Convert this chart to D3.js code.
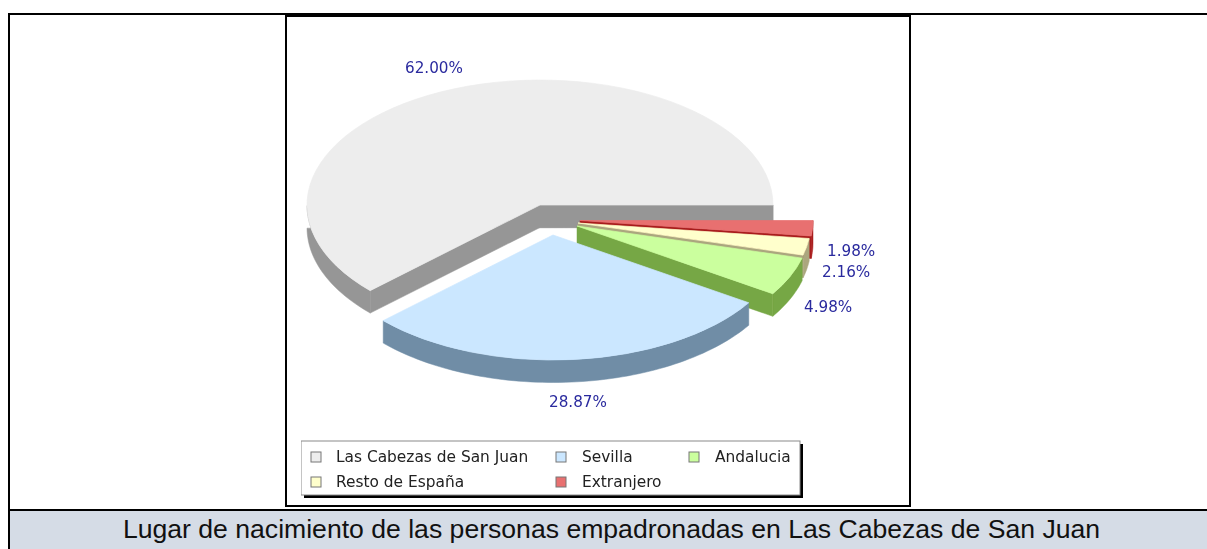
<!DOCTYPE html>
<html><head><meta charset="utf-8">
<script src="https://cdn.jsdelivr.net/npm/d3@7"></script>
<style>html,body{margin:0;padding:0;background:#fff;overflow:hidden}svg{display:block}</style>
</head><body><svg id="c" width="1207" height="549"></svg>
<script>
const categories = ["Las Cabezas de San Juan","Sevilla","Andalucia","Resto de España","Extranjero"];
const percents = [62.00,28.87,4.98,2.16,1.98];
const percentLabels = ["62.00%","28.87%","4.98%","2.16%","1.98%"];
const caption = "Lugar de nacimiento de las personas empadronadas en Las Cabezas de San Juan";

// styling and layout, kept apart from the data
const topColors = ["#ededed","#cbe7ff","#cbff9e","#ffffcc","#e86f6f"];
const wallColors = ["#969696","#6f8da6","#76a745","#aba67e","#a81c1c"];
const sliceCentres = [[540,205],[553,235],[577,226],[578,223],[580,220.5]];
const labelAnchors = [[405,73],[549,407],[804,312],[822,277],[827,256]];
const legendCells = [[311,336,457],[556,582,457],[689,715,457],[311,336,482],[556,582,482]];
const paintOrder = [0,4,3,2,1];
const RX=233, RY=125, DEPTH=22.5;

const svg = d3.select("#c");
svg.append("defs").append("filter").attr("id","soft").attr("x",0).attr("y",0).attr("width",1).attr("height",1)
  .append("feGaussianBlur").attr("stdDeviation",0.5);

// page frame
svg.append("rect").attr("x",9).attr("y",511).attr("width",1198).attr("height",38).attr("fill","#d5dce6");
svg.append("g").attr("stroke","#000").attr("stroke-width",2).selectAll("line")
  .data([[8,14,1207,14],[9,13,9,549],[9,510,1207,510]]).join("line")
  .attr("x1",d=>d[0]).attr("y1",d=>d[1]).attr("x2",d=>d[2]).attr("y2",d=>d[3]);
svg.append("rect").attr("x",286).attr("y",16).attr("width",624).attr("height",490)
  .attr("fill","#fff").attr("stroke","#000").attr("stroke-width",2);
svg.append("text").attr("x",611.5).attr("y",538).attr("text-anchor","middle")
  .attr("font-family","'Liberation Sans',Arial,sans-serif").attr("font-size",26.6).attr("fill","#111").text(caption);

const chart = svg.append("g").attr("filter","url(#soft)");

// pie angles: start at 3 o'clock, run counter-clockwise
const arcs = d3.pie().sort(null).startAngle(Math.PI/2).endAngle(Math.PI/2-2*Math.PI)(percents);
const sx = d3.scaleLinear().domain([-1,1]).range([-RX,RX]);
const sy = d3.scaleLinear().domain([-1,1]).range([-RY,RY]);
const line = d3.line();
const sector = d3.arc().innerRadius(0).outerRadius(1);

paintOrder.forEach(i=>{
  const a = arcs[i], [cx,cy] = sliceCentres[i];
  const n = Math.max(2,Math.ceil(Math.abs(a.endAngle-a.startAngle)*40));
  const pts = d3.range(n+1).map(k=>{
    const t = a.startAngle+(a.endAngle-a.startAngle)*k/n;
    return [cx+sx(Math.sin(t)), cy+sy(-Math.cos(t))];
  });
  const down = p=>[p[0],p[1]+DEPTH];
  const apex=[cx,cy];
  const mid = pts[Math.floor(n/2)];
  const cross=(u,v)=>u[0]*v[1]-u[1]*v[0];
  // a cut face shows only if the extrusion falls outside the sector
  const faces = p=>{
    const e=[p[0]-cx,p[1]-cy], m=[mid[0]-cx,mid[1]-cy];
    return cross(e,m)*cross(e,[0,1])<0;
  };
  const front = pts.filter(p=>p[1]>=cy-0.001);
  const g = chart.append("g").attr("class","slice");
  const wall = [
    [...front,...front.slice().reverse().map(down)],
    ...[pts[0],pts[n]].filter(faces).map(p=>[apex,p,down(p),down(apex)])
  ];
  g.selectAll("path.wall").data(wall).join("path").attr("class","wall")
    .attr("d",d=>line(d)+"Z").attr("fill",wallColors[i])
    .attr("stroke",wallColors[i]).attr("stroke-width",0.5).attr("stroke-linejoin","round");
  // top face, via d3.arc in unit space
  g.append("path").attr("transform",`translate(${cx},${cy}) scale(${RX},${RY})`)
    .attr("d",sector(a)).attr("fill",topColors[i])
    .attr("stroke",topColors[i]).attr("stroke-width",0.7).attr("vector-effect","non-scaling-stroke");
});

chart.append("g").selectAll("text").data(percentLabels).join("text")
  .attr("x",(d,i)=>labelAnchors[i][0]).attr("y",(d,i)=>labelAnchors[i][1])
  .attr("font-family","'DejaVu Sans',sans-serif").attr("font-size",15.2).attr("fill","#2a2a9e").text(d=>d);

// legend
const lg = chart.append("g");
lg.append("rect").attr("x",304).attr("y",444).attr("width",499).attr("height",54).attr("fill","#000");
lg.append("rect").attr("x",301).attr("y",441).attr("width",499).attr("height",54).attr("fill","#fff").attr("stroke","#8a8a8a");
categories.forEach((c,i)=>{
  const [bx,tx,y]=legendCells[i];
  lg.append("rect").attr("x",bx).attr("y",y-5).attr("width",10).attr("height",10)
    .attr("fill",topColors[i]).attr("stroke","#777").attr("stroke-width",1);
  lg.append("text").attr("x",tx).attr("y",y+5).attr("font-family","'DejaVu Sans',sans-serif")
    .attr("font-size",15.4).attr("fill","#222").text(c);
});
</script></body></html>
